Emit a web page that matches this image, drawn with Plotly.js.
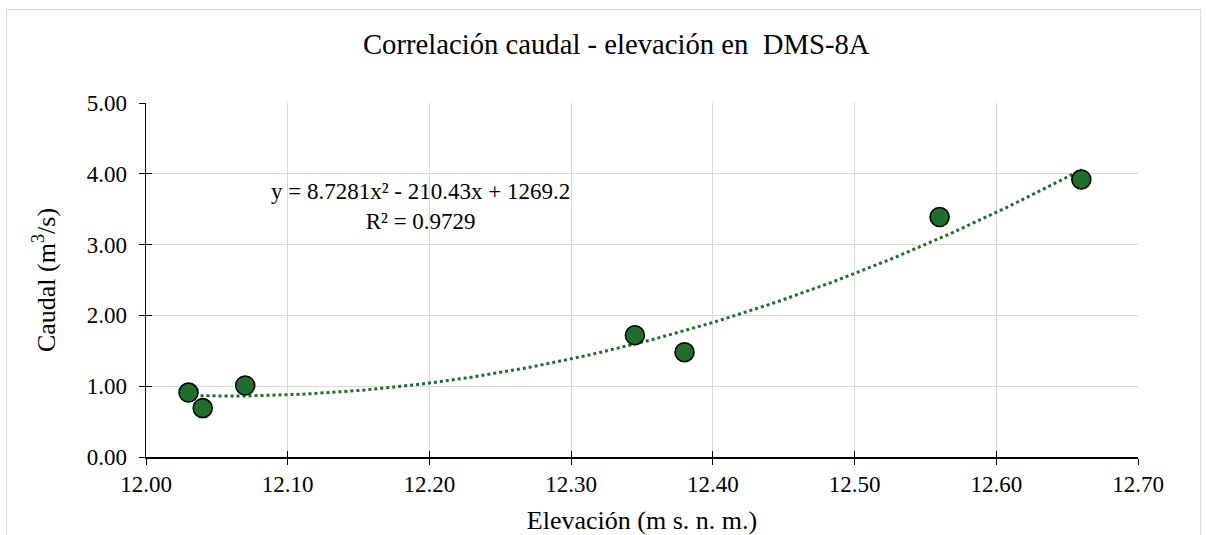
<!DOCTYPE html>
<html>
<head>
<meta charset="utf-8">
<script src="https://cdn.plot.ly/plotly-3.0.1.min.js"></script>
<style>
  html, body { margin: 0; padding: 0; background: #ffffff; }
  #wrap { position: relative; width: 1206px; height: 535px; overflow: hidden; }
  #chart { position: absolute; left: 0; top: 0; width: 1206px; height: 535px; }
  #frame { position: absolute; left: 6px; top: 9px; width: 1193px; height: 560px;
           border: 1px solid #d9d9d9; pointer-events: none; }
</style>
</head>
<body>
<div id="wrap">
  <div id="chart"></div>
  <div id="frame"></div>
</div>
<script>
// Measured elevation (m s. n. m.) and discharge (m³/s) at DMS-8A
const elevacion = [12.03, 12.04, 12.07, 12.345, 12.38, 12.56, 12.66];
const caudal    = [0.91, 0.69, 1.01, 1.72, 1.48, 3.39, 3.92];

// Polynomial trendline coefficients (a·x² + b·x + c) and its R²
const coefTrend = [8.7281, -210.43, 1269.2];
const r2 = 0.9729;

const xTicks = [12.00, 12.10, 12.20, 12.30, 12.40, 12.50, 12.60, 12.70];
const yTicks = [0, 1, 2, 3, 4, 5];

const green = '#1f6e2c';
const serif = 'Liberation Serif';

// Trendline sampled across the span of the measurements
const xMin = Math.min(...elevacion), xMax = Math.max(...elevacion);
const trendX = [], trendY = [];
const nSamp = 120;
for (let i = 0; i <= nSamp; i++) {
  const x = xMin + (xMax - xMin) * i / nSamp;
  trendX.push(x);
  trendY.push(coefTrend[0] * x * x + coefTrend[1] * x + coefTrend[2]);
}

const traces = [
  {
    x: trendX, y: trendY, type: 'scatter', mode: 'lines',
    line: { color: green, width: 3, dash: 'dot' },
    hoverinfo: 'skip', showlegend: false
  },
  {
    x: elevacion, y: caudal, type: 'scatter', mode: 'markers',
    marker: { color: green, size: 19, line: { color: '#000000', width: 1.6 } },
    showlegend: false
  },
  // Invisible point binding the overlay axes so their ticks are drawn
  {
    x: [12.0], y: [0], xaxis: 'x2', yaxis: 'y2', type: 'scatter', mode: 'markers',
    marker: { opacity: 0 }, hoverinfo: 'skip', showlegend: false
  }
];

const eqText = 'y = ' + coefTrend[0] + 'x² - ' + Math.abs(coefTrend[1]) + 'x + ' + coefTrend[2] +
               '<br>R² = ' + r2;

const layout = {
  width: 1206, height: 535,
  margin: { l: 146, r: 68, t: 103, b: 78, pad: 0 },
  paper_bgcolor: 'rgba(0,0,0,0)',
  plot_bgcolor: '#ffffff',
  font: { family: serif, color: '#000000', size: 23 },
  title: {
    text: 'Correlación caudal - elevación en  DMS-8A',
    font: { family: serif, size: 28.7, color: '#000000' },
    x: 0.511, xanchor: 'center', y: 0.918, yanchor: 'middle'
  },
  xaxis: {
    range: [12.0, 12.7],
    tickvals: xTicks, ticktext: xTicks.map(v => v.toFixed(2)),
    showgrid: true, gridcolor: '#d9d9d9', gridwidth: 1,
    zeroline: false, showline: true, linecolor: '#000000', linewidth: 1.5,
    ticks: 'outside', ticklen: 6, tickcolor: '#000000', tickwidth: 1,
    tickfont: { family: serif, size: 23, color: '#000000' },
    title: { text: 'Elevación (m s. n. m.)', font: { family: serif, size: 26, color: '#000000' }, standoff: 15 },
    fixedrange: true
  },
  yaxis: {
    range: [0, 5],
    tickvals: yTicks, ticktext: yTicks.map(v => v.toFixed(2)),
    showgrid: true, gridcolor: '#d9d9d9', gridwidth: 1,
    zeroline: false, showline: true, linecolor: '#000000', linewidth: 1.5,
    ticks: 'outside', ticklen: 6, tickcolor: '#000000', tickwidth: 1,
    ticklabelstandoff: 7,
    tickfont: { family: serif, size: 23, color: '#000000' },
    title: { text: 'Caudal (m<sup>3</sup>/s)', font: { family: serif, size: 26, color: '#000000' }, standoff: 23 },
    fixedrange: true
  },
  // Overlay axes carry the inner half of the crossing tick marks
  xaxis2: {
    range: [12.0, 12.7], tickvals: xTicks, overlaying: 'x', anchor: 'y2',
    side: 'bottom', showticklabels: false, showgrid: false, zeroline: false,
    showline: false, ticks: 'inside', ticklen: 6, tickcolor: '#000000', tickwidth: 1
  },
  yaxis2: {
    range: [0, 5], tickvals: yTicks, overlaying: 'y', anchor: 'x2',
    side: 'left', showticklabels: false, showgrid: false, zeroline: false,
    showline: false, ticks: 'inside', ticklen: 6, tickcolor: '#000000', tickwidth: 1
  },
  annotations: [{
    text: eqText, xref: 'x', yref: 'y', x: 12.1935, y: 3.54,
    showarrow: false, align: 'center',
    font: { family: serif, size: 23, color: '#000000' }
  }]
};

Plotly.newPlot('chart', traces, layout, { displayModeBar: false, staticPlot: true });
</script>
</body>
</html>
